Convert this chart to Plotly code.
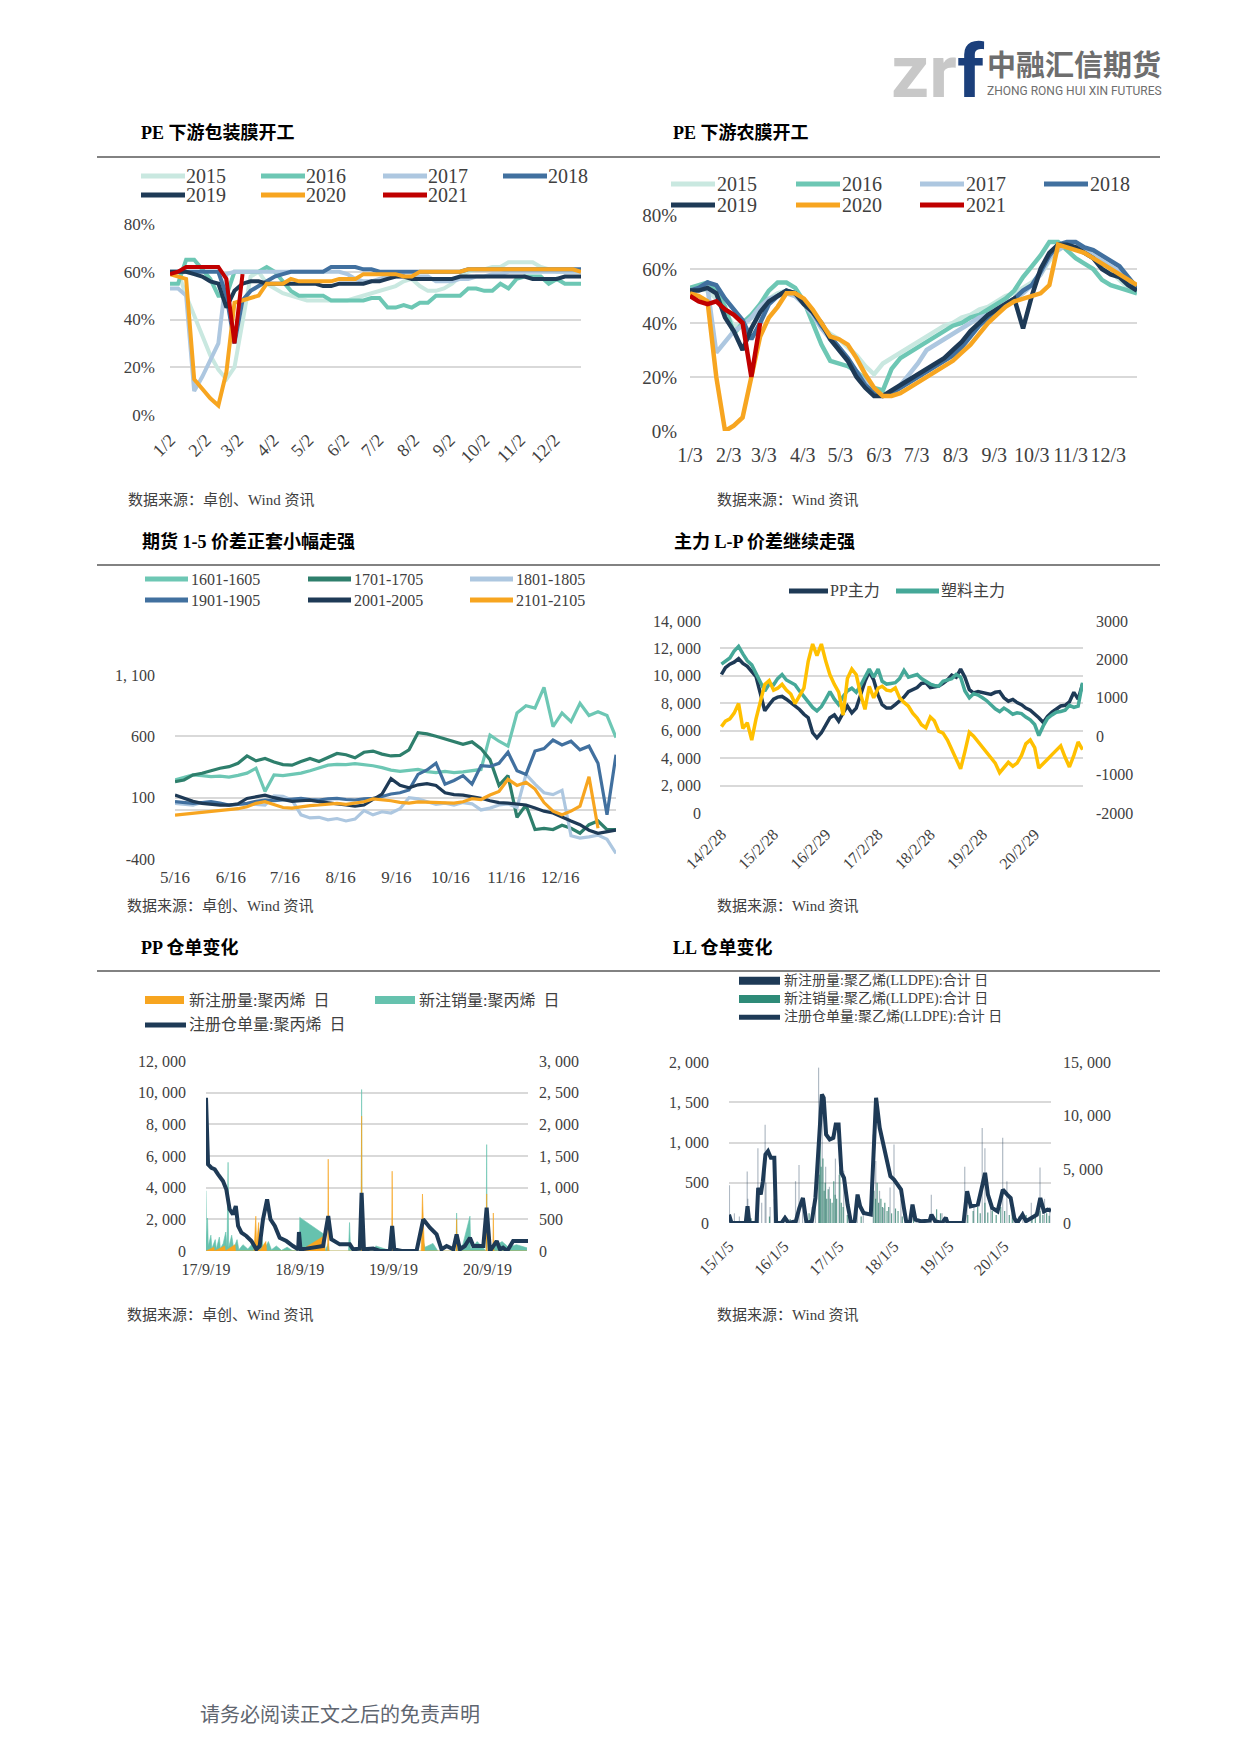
import plotly.graph_objects as go
import pandas as pd

W, H = 1240, 1753


def px(x):
    return x / W


def py(y):
    return 1 - y / H


SERIF = "Liberation Serif, Noto Sans CJK SC, serif"
GRID = "#D9D9D9"
TXT = "#404040"

# ================= Chart 1: PE 下游包装膜开工 (weekly, %) =================
pack_weeks = pd.date_range("2021-01-02", periods=52, freq="7D")
pack_names = ["2015", "2016", "2017", "2018", "2019", "2020", "2021"]
pack_2015 = [60, 60, 50, 42, 33, 25, 19, 15, 20, 40, 58, 60, 55, 53, 51, 50, 49, 48, 48, 48,
             48, 48, 48, 49, 50, 51, 52, 53, 54, 56, 57, 54, 52, 52, 53, 55, 58, 60, 61, 61,
             62, 62, 64, 64, 64, 64, 62, 61, 60, 60, 60, 60]
pack_2016 = [55, 55, 65, 65, 61, 57, 50, 50, 60, 60, 60, 60, 62, 60, 56, 52, 50, 50, 50, 50,
             48, 48, 48, 48, 48, 49, 49, 45, 45, 46, 45, 47, 47, 50, 50, 50, 50, 53, 53, 52,
             52, 55, 53, 57, 58, 58, 58, 55, 57, 55, 55, 55]
pack_2017 = [53, 53, 50, 10, 16, 23, 30, 59, 60, 60, 60, 60, 60, 60, 60, 60, 60, 60, 60, 60,
             60, 60, 59, 57, 56, 56, 57, 58, 58, 58, 58, 58, 58, 56, 56, 56, 57, 57, 58, 58,
             59, 59, 60, 60, 60, 60, 60, 60, 60, 60, 60, 60]
pack_2018 = [60, 60, 60, 60, 60, 60, 60, 50, 30, 48, 52, 54, 56, 58, 59, 60, 60, 60, 60, 60,
             62, 62, 62, 62, 61, 61, 60, 60, 60, 60, 60, 60, 60, 60, 60, 60, 60, 61, 61, 61,
             61, 61, 61, 61, 61, 61, 61, 61, 61, 61, 61, 61]
pack_2019 = [60, 60, 60, 59, 58, 56, 55, 45, 52, 55, 56, 56, 55, 55, 55, 55, 55, 55, 55, 54,
             54, 55, 55, 55, 55, 56, 56, 57, 58, 58, 57, 57, 57, 57, 57, 57, 58, 58, 58, 58,
             58, 58, 58, 58, 58, 57, 57, 57, 57, 58, 58, 58]
pack_2020 = [59, 58, 57, 15, 11, 7, 4, 18, 47, 48, 49, 50, 55, 55, 55, 57, 56, 56, 56, 56,
             56, 57, 57, 57, 59, 59, 59, 59, 59, 58, 58, 60, 60, 60, 60, 60, 60, 61, 61, 61,
             61, 61, 61, 61, 61, 61, 61, 61, 61, 61, 61, 60]
pack_2021 = [59, 60, 62, 62, 62, 62, 62, 57, 30, 59]
pack_ticks = ["1/2", "2/2", "3/2", "4/2", "5/2", "6/2", "7/2", "8/2", "9/2", "10/2", "11/2", "12/2"]
pack_tickdates = ["2021-%02d-02" % m for m in range(1, 13)]

# ================= Chart 2: PE 下游农膜开工 (weekly, %) =================
agri_weeks = pd.date_range("2021-01-03", periods=52, freq="7D")
agri_2015 = [53, 53, 52, 49, 44, 39, 39, 42, 46, 49, 51, 52, 50, 47, 43, 39, 36, 34, 31, 28,
             24, 21, 25, 27, 29, 31, 33, 35, 37, 39, 40, 42, 43, 45, 46, 48, 50, 51, 53, 55,
             58, 63, 67, 69, 68, 67, 64, 61, 59, 56, 53, 51]
agri_2016 = [53, 54, 55, 52, 46, 36, 40, 43, 47, 52, 55, 55, 53, 48, 40, 32, 26, 25, 24, 22,
             19, 16, 15, 23, 27, 29, 31, 33, 35, 37, 39, 40, 42, 43, 45, 47, 49, 52, 57, 61,
             65, 70, 70, 67, 64, 62, 60, 56, 54, 53, 52, 51]
agri_2017 = [52, 53, 53, 29, 33, 37, 39, 42, 46, 49, 50, 51, 50, 47, 43, 38, 34, 30, 26, 22,
             18, 15, 13, 14, 17, 21, 25, 30, 32, 34, 36, 38, 40, 42, 43, 45, 47, 49, 51, 54,
             58, 64, 67, 69, 68, 67, 65, 63, 61, 59, 56, 53]
agri_2018 = [52, 53, 55, 54, 49, 45, 41, 34, 40, 47, 50, 52, 51, 48, 44, 39, 35, 31, 27, 22,
             17, 14, 13, 14, 16, 18, 20, 22, 24, 26, 28, 31, 35, 39, 42, 45, 47, 49, 52, 54,
             59, 65, 69, 70, 70, 68, 67, 65, 63, 61, 57, 53]
agri_2019 = [52, 52, 53, 51, 42, 37, 30, 38, 44, 48, 50, 52, 51, 47, 44, 40, 34, 30, 26, 20,
             16, 13, 13, 15, 17, 19, 21, 23, 25, 27, 30, 33, 37, 40, 43, 45, 47, 49, 38, 50,
             60, 66, 69, 69, 68, 66, 64, 60, 58, 57, 54, 52]
agri_2020 = [51, 50, 48, 20, 0, 2, 5, 20, 35, 42, 46, 51, 51, 49, 45, 40, 35, 34, 32, 27,
             21, 16, 13, 13, 14, 16, 18, 20, 22, 24, 26, 29, 32, 36, 40, 43, 46, 48, 49, 50,
             51, 54, 69, 68, 67, 66, 64, 62, 60, 58, 56, 54]
agri_2021 = [50, 48, 47, 48, 45, 43, 40, 20, 40]
agri_ticks = ["1/3", "2/3", "3/3", "4/3", "5/3", "6/3", "7/3", "8/3", "9/3", "10/3", "11/3", "12/3"]
agri_tickdates = ["2021-%02d-03" % m for m in range(1, 13)]

year_colors = ["#C9E8E0", "#6DC7B4", "#ADC7E0", "#41709F", "#1E3A56", "#F7A520", "#C00000"]

# ================= Chart 3: 期货 1-5 价差 =================
spread_dates = pd.date_range("2020-05-16", periods=50, freq="5D")
spread_names = ["1601-1605", "1701-1705", "1801-1805", "1901-1905", "2001-2005", "2101-2105"]
s1601 = [244, 265, 285, 280, 272, 275, 268, 282, 300, 340, 150, 285, 280, 290, 300, 320, 345, 365, 372, 370,
         378, 372, 360, 345, 325, 315, 320, 330, 312, 305, 315, 305, 310, 318, 330, 610, 560, 520, 790, 850,
         830, 1000, 680, 790, 720, 870, 770, 800, 770, 590]
s1701 = [231, 244, 285, 299, 320, 340, 353, 380, 440, 400, 420, 390, 370, 365, 395, 420, 395, 430, 460, 450,
         425, 470, 480, 455, 440, 445, 490, 630, 620, 600, 580, 560, 535, 555, 500, 410, 200, 280, -60, 40,
         -160, -150, -160, -125, -150, -190, -120, -90, -160, -160]
s1801 = [54, 50, 40, 60, 62, 45, 40, 45, 50, 45, 40, 115, 110, 80, -40, -65, -60, -80, -70, -90,
         -75, -5, -40, -15, -25, 10, 100, 90, 65, 45, 55, 40, 60, 50, 0, 15, 40, 50, 20, 290,
         210, 140, 125, 160, -210, -230, -220, -205, -240, -355]
s1901 = [67, 60, 54, 60, 67, 55, 40, 45, 54, 70, 81, 75, 81, 90, 94, 85, 81, 90, 94, 85,
         81, 90, 94, 110, 130, 140, 163, 290, 326, 381, 210, 240, 280, 210, 360, 355, 380, 470, 320, 290,
         480, 500, 570, 530, 560, 490, 520, 380, -40, 450]
s2001 = [122, 94, 70, 54, 45, 40, 40, 50, 94, 110, 120, 100, 85, 70, 75, 80, 67, 60, 50, 40,
         30, 40, 85, 130, 255, 200, 180, 205, 215, 200, 140, 125, 120, 110, 95, 75, 60, 55, 50, 40,
         15, -10, -25, -60, -90, -120, -165, -190, -180, -165]
s2101 = [-42, -35, -28, -20, -14, -5, -1, 10, 26, 54, 67, 45, 20, 15, 26, 35, 40, 50, 54, 45,
         55, 67, 90, 85, 75, 62, 55, 65, 62, 55, 54, 55, 67, 92, 85, 122, 150, 250, 200, 225,
         170, 60, -10, -40, -10, 30, 270, -150]
spread_colors = ["#6DC7B4", "#2E7F6C", "#ADC7E0", "#41709F", "#1E3A56", "#F7A520"]
spread_ticks = ["5/16", "6/16", "7/16", "8/16", "9/16", "10/16", "11/16", "12/16"]
spread_tickdates = ["2020-%02d-16" % m for m in range(5, 13)]

# ================= Chart 4: 主力 L-P =================
lp_dates = ["%d-%02d-28" % (2014 + (1 + m) // 12, (1 + m) % 12 + 1) for m in range(84)]
pp_main = [10100, 10600, 10850, 11000, 11250, 10900, 10700, 10300, 9950, 8700,
           7450, 7900, 8300, 8450, 8500, 8300, 8050, 7850, 7550, 7200,
           6950, 5850, 5480, 5850, 6400, 6950, 7150, 6700, 7300, 7800,
           7300, 7650, 8600, 9600, 10300, 9700, 8600, 7900, 7650, 7650,
           7900, 8150, 8450, 8850, 9000, 9150, 9450, 9500, 9150, 9200,
           9250, 9450, 9700, 10050, 9900, 10500, 9900, 9000, 8750, 8850,
           8800, 8750, 8650, 8800, 8850, 8400, 8150, 8280, 8050, 7900,
           7650, 7500, 7250, 6950, 6600, 7050, 7350, 7600, 7800, 7850,
           8100, 8800, 8300, 9400]
pe_main = [10850, 11100, 11300, 11800, 12150, 11600, 11100, 10800, 10200, 9600,
           8900, 9400, 9350, 9800, 10100, 9700, 9500, 9350, 8900, 8500,
           8050, 7700, 7450, 7750, 8300, 8850, 8300, 7900, 8500, 8900,
           9100, 8800, 9300, 9900, 10500, 9900, 10500, 9600, 9400, 9450,
           9500, 9800, 10400, 9900, 10000, 10100, 9800, 9600, 9400, 9300,
           9250, 9600, 9700, 9800, 10100, 9900, 8900, 8400, 8700, 8600,
           8400, 8200, 7900, 7600, 7400, 7650, 7450, 7200, 7300, 7250,
           7000, 6800, 6450, 5650, 6350, 6900, 7150, 7350, 7400, 7500,
           7850, 7700, 7800, 9500]
lp_spread = [250, 390, 450, 600, 850, 200, 350, -100, 450, 950,
             1350, 1450, 1200, 1250, 1350, 1200, 1100, 850, 1050, 1250,
             1950, 2400, 2100, 2400, 1950, 1600, 1350, 1150, 550, 1500,
             1750, 1600, 1100, 700, 1300, 1000, 1250, 1300, 1200, 1180,
             1260, 1000, 880, 780, 600, 470, 300, 220, 500, 400,
             130, 80, -100, -350, -600, -850, -400, 100, 0, -150,
             -280, -400, -550, -700, -950, -800, -680, -780, -700, -500,
             -200, -100, -300, -830, -700, -600, -480, -350, -250, -550,
             -800, -500, -150, -350]
lp_ticks = ["14/2/28", "15/2/28", "16/2/29", "17/2/28", "18/2/28", "19/2/28", "20/2/29"]
lp_tickdates = ["2014-02-28", "2015-02-28", "2016-02-29", "2017-02-28", "2018-02-28", "2019-02-28", "2020-02-29"]

# ================= Chart 5: PP 仓单变化 =================
pp_stock_dates = ["2017-09-19", "2017-09-23", "2017-09-27", "2017-10-10", "2017-10-23", "2017-11-05",
                  "2017-11-24", "2017-12-07", "2017-12-20", "2018-01-02", "2018-01-13", "2018-01-22",
                  "2018-02-04", "2018-02-23", "2018-03-15", "2018-04-03", "2018-04-16", "2018-04-29",
                  "2018-05-15", "2018-05-28", "2018-06-14", "2018-07-03", "2018-07-29", "2018-08-24",
                  "2018-09-13", "2018-09-16", "2018-09-22", "2018-10-15", "2018-12-19", "2019-01-08",
                  "2019-01-20", "2019-02-22", "2019-04-02", "2019-04-15", "2019-05-11", "2019-05-18",
                  "2019-05-27", "2019-07-02", "2019-07-28", "2019-09-05", "2019-09-14", "2019-09-22",
                  "2019-10-21", "2019-12-18", "2020-01-13", "2020-02-08", "2020-03-05", "2020-03-24",
                  "2020-04-13", "2020-05-09", "2020-05-22", "2020-06-04", "2020-06-23", "2020-07-13",
                  "2020-07-26", "2020-09-03", "2020-09-16", "2020-09-29", "2020-10-25", "2020-11-07",
                  "2020-11-19", "2020-12-05", "2020-12-28", "2021-02-24"]
pp_stock = [9680, 7470, 5470, 5260, 5160, 4840,
            4420, 3900, 2630, 2320, 2840, 1580,
            1160, 950, 630, 105, 315, 2000,
            3260, 2000, 1580, 840, 630, 315,
            105, 1200, 105, 150, 315, 2210,
            740, 420, 420, 105, 150, 3680,
            105, 150, 0, 0, 1580, 105,
            0, 0, 2000, 1470, 1050, 105,
            315, 105, 1050, 105, 315, 840,
            315, 315, 2740, 0, 630, 105,
            210, 0, 630, 630]
pp_cancel_dates = ["2017-09-19", "2017-09-21", "2017-09-25", "2017-09-28", "2017-10-08", "2017-10-12",
                   "2017-10-25", "2017-10-29", "2017-11-10", "2017-11-14", "2017-11-25", "2017-12-05",
                   "2017-12-10", "2017-12-14", "2017-12-16", "2017-12-28", "2018-01-05", "2018-01-18",
                   "2018-01-25", "2018-02-10", "2018-03-01", "2018-03-20", "2018-04-05", "2018-04-25",
                   "2018-05-02", "2018-05-20", "2018-06-01", "2018-06-20", "2018-07-10", "2018-08-01",
                   "2018-08-20", "2018-09-18", "2018-09-19", "2018-12-24", "2018-12-27", "2019-01-08",
                   "2019-01-12", "2019-03-28", "2019-04-01", "2019-04-05", "2019-05-16", "2019-05-18",
                   "2019-05-20", "2019-07-10", "2019-07-12", "2019-09-12", "2019-09-14", "2019-09-16",
                   "2020-01-10", "2020-01-13", "2020-01-20", "2020-02-20", "2020-03-10", "2020-05-20",
                   "2020-05-22", "2020-05-25", "2020-06-15", "2020-07-13", "2020-07-16", "2020-08-10",
                   "2020-09-14", "2020-09-16", "2020-09-18", "2020-10-20", "2020-11-15", "2020-12-10",
                   "2021-01-10", "2021-02-20"]
pp_cancel = [950, 150, 520, 80, 250, 40,
             180, 30, 220, 40, 120, 300,
             60, 1400, 50, 250, 40, 180,
             20, 100, 30, 120, 20, 200,
             10, 150, 20, 80, 10, 60,
             10, 0, 530, 260, 0, 120,
             0, 0, 450, 0, 0, 2550,
             0, 0, 80, 0, 250, 0,
             0, 150, 60, 120, 0, 0,
             600, 40, 100, 550, 30, 150,
             0, 1680, 0, 80, 150, 60,
             100, 50]
pp_reg_dates = ["2017-09-19", "2017-10-20", "2017-10-22", "2017-12-01", "2017-12-03", "2018-01-10",
                "2018-01-12", "2018-03-25", "2018-04-01", "2018-04-04", "2018-04-12", "2018-04-16",
                "2018-05-10", "2018-05-13", "2018-09-19", "2018-12-24", "2018-12-27", "2019-01-06",
                "2019-01-08", "2019-01-10", "2019-05-16", "2019-05-18", "2019-05-20", "2019-09-12",
                "2019-09-14", "2019-09-16", "2020-01-05", "2020-01-10", "2020-01-14", "2020-01-18",
                "2020-05-20", "2020-05-22", "2020-05-24", "2020-09-14", "2020-09-16", "2020-09-18",
                "2020-10-10", "2020-10-12", "2020-10-14", "2021-02-20"]
pp_reg = [0, 60, 0, 80, 0, 100,
          0, 0, 550, 100, 450, 0,
          150, 0, 0, 240, 0, 0,
          1450, 0, 0, 2130, 0, 0,
          1260, 0, 0, 900, 400, 0,
          0, 500, 0, 0, 900, 0,
          0, 600, 0, 0]
pp_ticks = ["17/9/19", "18/9/19", "19/9/19", "20/9/19"]
pp_tickdates = ["2017-09-19", "2018-09-19", "2019-09-19", "2020-09-19"]

# ================= Chart 6: LL 仓单变化 =================
ll_stock_dates = ["2015-01-05", "2015-01-22", "2015-04-26", "2015-05-08", "2015-05-20", "2015-07-07",
                  "2015-07-18", "2015-08-04", "2015-08-18", "2015-09-04", "2015-09-21", "2015-10-10",
                  "2015-11-02", "2015-11-14", "2015-12-20", "2016-01-12", "2016-02-05", "2016-03-24",
                  "2016-04-16", "2016-05-10", "2016-06-03", "2016-07-08", "2016-08-01", "2016-08-25",
                  "2016-09-13", "2016-09-25", "2016-10-11", "2016-11-04", "2016-11-28", "2016-12-14",
                  "2017-01-02", "2017-01-21", "2017-02-07", "2017-03-03", "2017-03-26", "2017-04-19",
                  "2017-05-08", "2017-05-25", "2017-06-17", "2017-08-04", "2017-08-23", "2017-09-08",
                  "2017-10-02", "2017-10-26", "2017-11-18", "2017-12-12", "2018-01-05", "2018-01-29",
                  "2018-02-21", "2018-03-12", "2018-03-29", "2018-04-22", "2018-05-08", "2018-05-27",
                  "2018-07-02", "2018-08-30", "2018-09-11", "2018-10-05", "2018-11-21", "2018-12-15",
                  "2018-12-27", "2019-04-12", "2019-05-06", "2019-05-30", "2019-07-16", "2019-08-16",
                  "2019-09-02", "2019-09-21", "2019-10-19", "2019-11-24", "2019-12-29", "2020-01-27",
                  "2020-02-19", "2020-03-14", "2020-04-02", "2020-05-08", "2020-05-31", "2020-07-06",
                  "2020-08-11", "2020-09-03", "2020-09-27", "2020-10-21", "2020-11-13"]
ll_stock = [780, 0, 0, 1560, 0, 0,
            3270, 2650, 3890, 6380, 6690, 6070,
            6070, 0, 0, 470, 0, 160,
            1400, 2330, 0, 160, 2330, 7620,
            11980, 11670, 8250, 7780, 7940, 9180,
            9180, 4670, 4200, 1710, 0, 160,
            2650, 1560, 930, 780, 5760, 11670,
            8870, 7310, 6070, 4360, 4050, 3580,
            3110, 1400, 0, 160, 1710, 310,
            160, 220, 780, 160, 0, 500,
            0, 0, 2960, 1560, 1710, 3580,
            4670, 2650, 1400, 1090, 3110, 2650,
            2330, 470, 0, 780, 160, 470,
            780, 2330, 1090, 1250, 1150]
ll_reg_dates = ["2015-01-08", "2015-02-10", "2015-03-15", "2015-05-06", "2015-05-10", "2015-07-16",
                "2015-07-20", "2015-08-10", "2015-09-02", "2015-09-08", "2015-10-05", "2015-11-01",
                "2016-01-12", "2016-03-22", "2016-04-14", "2016-05-08", "2016-07-10", "2016-08-01",
                "2016-08-22", "2016-08-28", "2016-09-15", "2016-10-08", "2016-11-02", "2016-12-12",
                "2017-01-05", "2017-02-05", "2017-03-10", "2017-05-06", "2017-06-15", "2017-08-20",
                "2017-09-06", "2017-10-01", "2017-10-28", "2017-12-10", "2018-01-05", "2018-02-20",
                "2018-04-20", "2018-06-01", "2018-09-10", "2018-11-20", "2019-04-20", "2019-05-05",
                "2019-06-20", "2019-08-14", "2019-09-01", "2019-10-10", "2019-12-28", "2020-01-25",
                "2020-03-10", "2020-05-10", "2020-07-05", "2020-09-01", "2020-10-01", "2020-11-05"]
ll_reg = [470, 120, 80, 640, 300, 930,
          400, 250, 1220, 500, 200, 300,
          100, 520, 720, 300, 200, 400,
          1930, 900, 1350, 700, 450, 800,
          600, 650, 200, 350, 150, 1100,
          770, 400, 190, 440, 975, 300,
          100, 80, 350, 120, 700, 300,
          200, 1180, 930, 300, 1060, 520,
          200, 150, 250, 690, 300, 200]
ll_cancel_dates = ["2015-06-01", "2015-10-01", "2016-02-15", "2016-06-20", "2016-08-26", "2016-09-02",
                   "2016-09-08", "2016-09-20", "2016-09-28", "2016-10-05", "2016-10-15", "2016-10-25",
                   "2016-11-08", "2016-11-20", "2016-12-01", "2016-12-10", "2016-12-20", "2017-01-10",
                   "2017-01-20", "2017-02-01", "2017-03-01", "2017-06-01", "2017-08-25", "2017-09-05",
                   "2017-09-15", "2017-09-25", "2017-10-10", "2017-10-20", "2017-11-05", "2017-11-20",
                   "2017-12-01", "2017-12-20", "2018-01-15", "2018-02-01", "2018-03-01", "2018-05-15",
                   "2018-10-15", "2018-11-10", "2019-05-10", "2019-06-15", "2019-07-15", "2019-08-01",
                   "2019-09-01", "2019-09-20", "2019-10-20", "2019-11-15", "2019-12-15", "2020-01-10",
                   "2020-02-10", "2020-03-01", "2020-04-15", "2020-06-01", "2020-07-10", "2020-08-01",
                   "2020-09-01", "2020-09-20", "2020-10-15", "2020-11-01"]
ll_cancel = [60, 80, 50, 120, 600, 1000,
             700, 800, 400, 500, 300, 420,
             300, 250, 520, 350, 300, 680,
             250, 200, 100, 80, 400, 300,
             500, 250, 300, 200, 250, 150,
             200, 120, 180, 150, 80, 60,
             170, 120, 100, 150, 200, 120,
             250, 130, 150, 100, 200, 150,
             100, 120, 80, 100, 90, 130,
             150, 100, 120, 90]
ll_ticks = ["15/1/5", "16/1/5", "17/1/5", "18/1/5", "19/1/5", "20/1/5"]
ll_tickdates = ["2015-01-05", "2016-01-05", "2017-01-05", "2018-01-05", "2019-01-05", "2020-01-05"]
ll_legend = ["新注册量:聚乙烯(LLDPE):合计\u00a0日", "新注销量:聚乙烯(LLDPE):合计\u00a0日",
             "注册仓单量:聚乙烯(LLDPE):合计\u00a0日"]

# ================= Figure =================
fig = go.Figure()


def xax(x0, x1, rng, tickvals, ticktext, anchor, size=17, angle=0, standoff=6):
    return dict(domain=[px(x0), px(x1)], range=rng, type="date", tickvals=tickvals, ticktext=ticktext,
                tickangle=angle, showgrid=False, zeroline=False, showline=False, ticks="",
                tickfont=dict(family=SERIF, size=size, color=TXT), ticklabelstandoff=standoff,
                anchor=anchor, fixedrange=True, automargin=False)


def yax(ytop, ybot, rng, tickvals, ticktext, anchor, side="left", grid=True, size=17, standoff=12,
        overlaying=None, zeroline=False):
    d = dict(range=rng, tickvals=tickvals, ticktext=ticktext, side=side, showgrid=grid, gridcolor=GRID,
             gridwidth=1.5, zeroline=zeroline, zerolinecolor=GRID, zerolinewidth=1.5, showline=False,
             ticks="", tickfont=dict(family=SERIF, size=size, color=TXT), ticklabelstandoff=standoff,
             anchor=anchor, fixedrange=True, automargin=False)
    if overlaying:
        d["overlaying"] = overlaying
    else:
        d["domain"] = [py(ybot), py(ytop)]
    return d


layout = dict(width=W, height=H, margin=dict(l=0, r=0, t=0, b=0, pad=0), paper_bgcolor="white",
              plot_bgcolor="white", showlegend=False, autosize=False)

# chart 1 axes
layout["xaxis"] = xax(162, 573, ["2021-01-02", "2021-12-25"], pack_tickdates, pack_ticks, "y",
                      size=18, angle=-45, standoff=10)
layout["yaxis"] = yax(216, 407, [0, 80], [0, 20, 40, 60, 80], ["0%", "20%", "40%", "60%", "80%"], "x",
                      size=17, standoff=14)
# chart 2 axes
layout["xaxis2"] = xax(682, 1129, ["2021-01-03", "2021-12-26"], agri_tickdates, agri_ticks, "y2",
                       size=20, angle=0, standoff=10)
layout["yaxis2"] = yax(207, 423, [0, 80], [0, 20, 40, 60, 80], ["0%", "20%", "40%", "60%", "80%"], "x2",
                       size=19, standoff=12)
# chart 3 axes
layout["xaxis3"] = xax(167, 608, ["2020-05-16", "2021-01-16"], spread_tickdates, spread_ticks, "y3",
                       size=17, angle=0, standoff=6)
layout["yaxis3"] = yax(667, 851, [-400, 1100], [-400, 100, 600, 1100], ["-400", "100", "600", "1, 100"], "x3",
                       size=16, standoff=19, zeroline=True)
# chart 4 axes
layout["xaxis4"] = xax(712, 1075, ["2014-02-18", "2021-01-31"], lp_tickdates, lp_ticks, "y4",
                       size=16, angle=-45, standoff=8)
layout["yaxis4"] = yax(613, 805, [0, 14000], list(range(0, 14001, 2000)),
                       ["0", "2, 000", "4, 000", "6, 000", "8, 000", "10, 000", "12, 000", "14, 000"], "x4",
                       size=16, standoff=18)
layout["yaxis7"] = yax(613, 805, [-2000, 3000], list(range(-2000, 3001, 1000)),
                       ["-2000", "-1000", "0", "1000", "2000", "3000"], "x4", side="right", grid=False,
                       size=16, standoff=12, overlaying="y4")
# chart 5 axes (base = right axis for area series, overlay = left axis for line)
layout["xaxis5"] = xax(198, 520, ["2017-09-19", "2021-02-24"], pp_tickdates, pp_ticks, "y5",
                       size=16, angle=0, standoff=7)
layout["yaxis5"] = yax(1053, 1243, [0, 3000], list(range(0, 3001, 500)),
                       ["0", "500", "1, 000", "1, 500", "2, 000", "2, 500", "3, 000"], "x5", side="right",
                       size=16, standoff=10)
layout["yaxis8"] = yax(1053, 1243, [0, 12000], list(range(0, 12001, 2000)),
                       ["0", "2, 000", "4, 000", "6, 000", "8, 000", "10, 000", "12, 000"], "x5", side="left",
                       grid=False, size=16, standoff=19, overlaying="y5")
# chart 6 axes
layout["xaxis6"] = xax(721, 1043, ["2015-01-05", "2020-11-13"], ll_tickdates, ll_ticks, "y6",
                       size=16, angle=-45, standoff=10)
layout["yaxis6"] = yax(1054, 1215, [0, 2000], [0, 500, 1000, 1500, 2000],
                       ["0", "500", "1, 000", "1, 500", "2, 000"], "x6", size=16, standoff=19)
layout["yaxis9"] = yax(1054, 1215, [0, 15000], [0, 5000, 10000, 15000],
                       ["0", "5, 000", "10, 000", "15, 000"], "x6", side="right", grid=False,
                       size=16, standoff=11, overlaying="y6")

fig.update_layout(**layout)

# ---- traces chart 1
pack_series = [pack_2015, pack_2016, pack_2017, pack_2018, pack_2019, pack_2020, pack_2021]
for name, vals, col in zip(pack_names, pack_series, year_colors):
    fig.add_trace(go.Scatter(x=pack_weeks[:len(vals)], y=vals, name=name, mode="lines",
                             line=dict(color=col, width=4), xaxis="x", yaxis="y"))
# ---- traces chart 2
agri_series = [agri_2015, agri_2016, agri_2017, agri_2018, agri_2019, agri_2020, agri_2021]
for name, vals, col in zip(pack_names, agri_series, year_colors):
    fig.add_trace(go.Scatter(x=agri_weeks[:len(vals)], y=vals, name=name, mode="lines",
                             line=dict(color=col, width=4.5), xaxis="x2", yaxis="y2"))
# ---- traces chart 3
spread_series = [s1601, s1701, s1801, s1901, s2001, s2101]
for name, vals, col in zip(spread_names, spread_series, spread_colors):
    fig.add_trace(go.Scatter(x=spread_dates[:len(vals)], y=vals, name=name, mode="lines",
                             line=dict(color=col, width=3.2), xaxis="x3", yaxis="y3"))
# ---- traces chart 4
fig.add_trace(go.Scatter(x=lp_dates, y=pp_main, name="PP主力", mode="lines",
                         line=dict(color="#1E3A56", width=3.5), xaxis="x4", yaxis="y4"))
fig.add_trace(go.Scatter(x=lp_dates, y=pe_main, name="塑料主力", mode="lines",
                         line=dict(color="#45A898", width=3.5), xaxis="x4", yaxis="y4"))
fig.add_trace(go.Scatter(x=lp_dates, y=lp_spread, name="L-P价差", mode="lines",
                         line=dict(color="#FFC000", width=3.5), xaxis="x4", yaxis="y7"))
# ---- traces chart 5
fig.add_trace(go.Scatter(x=pp_cancel_dates, y=pp_cancel, name="新注销量:聚丙烯 日", mode="lines",
                         fill="tozeroy", fillcolor="#66C2AE", line=dict(color="#66C2AE", width=0.6),
                         xaxis="x5", yaxis="y5"))
fig.add_trace(go.Scatter(x=pp_reg_dates, y=pp_reg, name="新注册量:聚丙烯 日", mode="lines",
                         fill="tozeroy", fillcolor="#F7A520", line=dict(color="#F7A520", width=0.6),
                         xaxis="x5", yaxis="y5"))
fig.add_trace(go.Scatter(x=pp_stock_dates, y=pp_stock, name="注册仓单量:聚丙烯 日", mode="lines",
                         line=dict(color="#1E3A56", width=4), xaxis="x5", yaxis="y8"))


# ---- traces chart 6
def spikes(dates, vals):
    xs, ys = [], []
    for d, v in zip(dates, vals):
        xs += [d, d, None]
        ys += [0, v, None]
    return xs, ys


sx, sy = spikes(ll_reg_dates, ll_reg)
fig.add_trace(go.Scatter(x=sx, y=sy, name=ll_legend[0], mode="lines",
                         line=dict(color="rgba(30,58,86,0.35)", width=1.2), xaxis="x6", yaxis="y6"))
sx, sy = spikes(ll_cancel_dates, ll_cancel)
fig.add_trace(go.Scatter(x=sx, y=sy, name=ll_legend[1], mode="lines",
                         line=dict(color="rgba(46,127,108,0.75)", width=1.2), xaxis="x6", yaxis="y6"))
fig.add_trace(go.Scatter(x=ll_stock_dates, y=ll_stock, name=ll_legend[2], mode="lines",
                         line=dict(color="#1E3A56", width=4), xaxis="x6", yaxis="y9"))

# ================= Decorations =================
shapes = []
annotations = []


def hline(x0, x1, y, color, width):
    shapes.append(dict(type="line", xref="paper", yref="paper", x0=px(x0), x1=px(x1), y0=py(y), y1=py(y),
                       line=dict(color=color, width=width)))


def rect(x0, x1, y, color, h=8):
    shapes.append(dict(type="rect", xref="paper", yref="paper", x0=px(x0), x1=px(x1), y0=py(y + h / 2),
                       y1=py(y - h / 2), fillcolor=color, line=dict(width=0)))


def text(x, y, s, size, color=TXT, family=SERIF, anchor="left", align="left"):
    annotations.append(dict(xref="paper", yref="paper", x=px(x), y=py(y), text=s, showarrow=False,
                            xanchor=anchor, yanchor="middle", align=align,
                            font=dict(family=family, size=size, color=color)))


# section rules
for yy in (149, 557, 963):
    hline(89, 1152, yy, "#595959", 1.5)

# titles
titles = [(131, 125, "PE 下游包装膜开工"), (663, 125, "PE 下游农膜开工"),
          (132, 533, "期货 1-5 价差正套小幅走强"), (664, 533, "主力 L-P 价差继续走强"),
          (131, 940, "PP 仓单变化"), (663, 940, "LL 仓单变化")]
for x, y, s in titles:
    text(x, y, "<b>" + s + "</b>", 18, color="#000000")

# sources
for x, y, s in [(118, 492, "数据来源：卓创、Wind 资讯"), (707, 492, "数据来源：Wind 资讯"),
                (117, 898, "数据来源：卓创、Wind 资讯"), (707, 898, "数据来源：Wind 资讯"),
                (117, 1307, "数据来源：卓创、Wind 资讯"), (707, 1307, "数据来源：Wind 资讯")]:
    text(x, y, s, 15)

# legend chart 1
c1_cols = [133, 253, 375, 495]
for i, (name, col) in enumerate(zip(pack_names, year_colors)):
    r, c = divmod(i, 4)
    yy = [168, 187][r]
    hline(c1_cols[c], c1_cols[c] + 44, yy, col, 5)
    text(c1_cols[c] + 43, yy, name, 20)
# legend chart 2
c2_cols = [663, 788, 912, 1036]
for i, (name, col) in enumerate(zip(pack_names, year_colors)):
    r, c = divmod(i, 4)
    yy = [176, 197][r]
    hline(c2_cols[c], c2_cols[c] + 44, yy, col, 5)
    text(c2_cols[c] + 44, yy, name, 20)
# legend chart 3
c3_cols = [137, 300, 462]
for i, (name, col) in enumerate(zip(spread_names, spread_colors)):
    r, c = divmod(i, 3)
    yy = [571, 592][r]
    hline(c3_cols[c], c3_cols[c] + 43, yy, col, 5)
    text(c3_cols[c] + 44, yy, name, 16)
# legend chart 4
hline(781, 820, 583, "#1E3A56", 5)
text(820, 583, "PP主力", 16)
hline(888, 931, 583, "#45A898", 5)
text(931, 583, "塑料主力", 16)
# legend chart 5
rect(137, 176, 992, "#F7A520")
text(179, 992, "新注册量:聚丙烯\u00a0\u00a0日", 16)
rect(367, 407, 992, "#66C2AE")
text(409, 992, "新注销量:聚丙烯\u00a0\u00a0日", 16)
hline(137, 178, 1017, "#1E3A56", 5)
text(179, 1017, "注册仓单量:聚丙烯\u00a0\u00a0日", 16)
# legend chart 6 (three tight rows, one multi-line text block)
ll_rows = [972.8, 991, 1009.2]
rect(731, 772, ll_rows[0], "#1E3A56")
rect(731, 772, ll_rows[1], "#2E8B78")
hline(731, 772, ll_rows[2], "#1E3A56", 5)
text(774, ll_rows[1], "<br>".join(ll_legend), 14)

# logo
text(881, 63, "<b><span style='color:#C8C8C8'>zr</span><span style='color:#1B3F7B'>f</span></b>", 75,
     color="#C8C8C8", family="Roboto, DejaVu Sans, sans-serif")
text(977, 55, "<b>中融汇信期货</b>", 29, color="#6E6E6E", family="Noto Sans CJK SC, sans-serif")
text(977, 83, "ZHONG RONG HUI XIN FUTURES", 12, color="#6E6E6E", family="Roboto, sans-serif")

# footer
text(190, 1705, "请务必阅读正文之后的免责声明", 20, color="#5F6670", family="Noto Sans CJK SC, sans-serif")

fig.update_layout(shapes=shapes, annotations=annotations)
fig.write_html("out.html")
